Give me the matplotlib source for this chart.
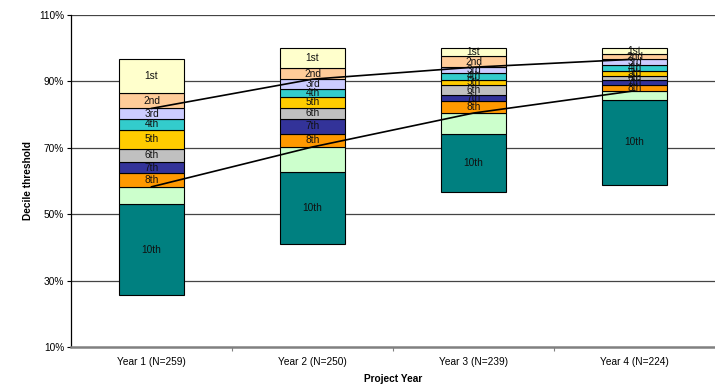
import numpy as np
import matplotlib.pyplot as plt

plt.rcParams['font.family'] = ['Liberation Sans', 'DejaVu Sans']

years = ['Year 1 (N=259)', 'Year 2 (N=250)', 'Year 3 (N=239)', 'Year 4 (N=224)']

# lowest value (bottom of the 10th decile) and upper edge of each decile, in %
floor = [25.6, 40.9, 56.5, 58.9]
d10 = [52.9, 62.8, 74.0, 84.3]
d9 = [58.2, 70.2, 80.4, 87.1]
d8 = [62.3, 74.1, 84.0, 88.8]
d7 = [65.7, 78.7, 85.8, 90.4]
d6 = [69.7, 82.0, 88.8, 91.7]
d5 = [75.4, 85.3, 90.4, 93.1]
d4 = [78.7, 87.7, 92.6, 94.8]
d3 = [81.8, 90.6, 94.2, 96.6]
d2 = [86.4, 93.9, 97.5, 98.2]
d1 = [96.6, 100.0, 100.0, 100.0]

deciles = ['10th', '9th', '8th', '7th', '6th', '5th', '4th', '3rd', '2nd', '1st']
tops = [d10, d9, d8, d7, d6, d5, d4, d3, d2, d1]
colors = ['#008080', '#CCFFCC', '#FF9900', '#333399', '#C0C0C0',
          '#FFCC00', '#33CCCC', '#CCCCFF', '#FFCC99', '#FFFFCC']

# trend lines through the 80% and 20% thresholds
line_hi = d3
line_lo = d9

fig = plt.figure(figsize=(7.15, 3.86), dpi=100)
ax = fig.add_axes([71 / 715, 1 - 347 / 386, 1 - 71 / 715, (347 - 14.7) / 386])

x = np.arange(len(years))
lower = np.array(floor)
for name, top, c in zip(deciles, tops, colors):
    top = np.array(top)
    ax.bar(x, top - lower, bottom=lower, width=0.4, color=c,
           edgecolor='black', linewidth=0.8, zorder=2)
    if name != '9th':
        for xi, lo, hi in zip(x, lower, top):
            ax.text(xi, (lo + hi) / 2, name, ha='center', va='center',
                    fontsize=7.3, color='#111111', zorder=4)
    lower = top

ax.plot(x, line_hi, color='black', lw=1.2, zorder=3)
ax.plot(x, line_lo, color='black', lw=1.2, zorder=3)

ax.set_ylim(10, 110)
ax.set_xlim(-0.5, 3.5)
yt = np.arange(10, 111, 20)
ax.set_yticks(yt)
ax.set_yticklabels([f'{v}%' for v in yt], fontsize=7.3)
for v in yt[1:]:
    ax.axhline(v, color='#444444', lw=0.9, zorder=1)

ax.set_xticks([0.5, 1.5, 2.5])
ax.set_xticklabels([])
ax.set_xticks(x, minor=True)
ax.set_xticklabels(years, minor=True, fontsize=7.3)
ax.tick_params(axis='x', which='minor', length=0, pad=7)
ax.tick_params(axis='x', which='major', length=3, color='#808080')
ax.tick_params(axis='y', length=3, pad=2)

for s in ['top', 'right']:
    ax.spines[s].set_visible(False)
ax.spines['bottom'].set_color('#808080')
ax.spines['bottom'].set_linewidth(1.8)
ax.spines['left'].set_linewidth(0.9)

ax.set_ylabel('Decile threshold', fontsize=7.3, fontweight='bold', labelpad=4)
ax.set_xlabel('Project Year', fontsize=7.3, fontweight='bold', labelpad=5)

fig.savefig('out.png', dpi=100)
